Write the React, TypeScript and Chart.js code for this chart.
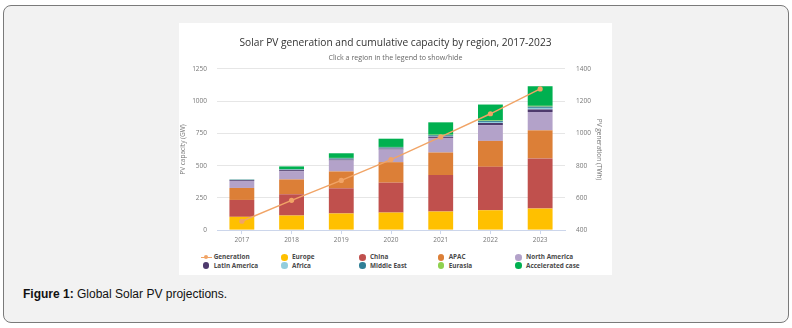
import React, { useEffect, useRef } from "react";
import { Chart, registerables } from "chart.js";

Chart.register(...registerables);

// ---- data ----
const years = ["2017", "2018", "2019", "2020", "2021", "2022", "2023"];
const europe = [103, 113, 129, 136, 144, 154, 167];
const china = [131, 165, 195, 232, 283, 337, 389];
const apac = [93, 115, 131, 159, 175, 201, 218];
const northAmerica = [54, 65, 85, 98, 113, 121, 142];
const latinAmerica = [6, 7, 8, 8, 10, 18, 20];
const africa = [2, 3, 4, 4, 5, 8, 12];
const middleEast = [3, 4, 5, 5, 6, 8, 10];
const eurasia = [1, 2, 3, 3, 4, 4, 6];
const acceleratedCase = [0, 20, 36, 64, 96, 123, 152];
const generation = [455, 585, 708, 838, 978, 1122, 1276];

const regionNames = [
  "Europe",
  "China",
  "APAC",
  "North America",
  "Latin America",
  "Africa",
  "Middle East",
  "Eurasia",
  "Accelerated case",
];
const regionValues = [
  europe,
  china,
  apac,
  northAmerica,
  latinAmerica,
  africa,
  middleEast,
  eurasia,
  acceleratedCase,
];

// ---- styles ----
const regionColors = [
  "#ffc000",
  "#c0504d",
  "#dc7f37",
  "#b3a2c9",
  "#4e3a6d",
  "#93cddd",
  "#2f7f96",
  "#8fd14f",
  "#00b050",
];
const generationColor = "#f1a466";
const FONT = "'Open Sans', 'DejaVu Sans', sans-serif";

const legendCols = [206, 284.3, 362.3, 441, 518.3];
const legendRows = [257.3, 265.7];

export default function App() {
  const canvasRef = useRef<HTMLCanvasElement | null>(null);

  useEffect(() => {
    const canvas = canvasRef.current;
    if (!canvas) return;
    const tickFont = { family: FONT, size: 6.5 };
    const chart = new Chart(canvas, {
      type: "bar",
      data: {
        labels: years,
        datasets: [
          {
            type: "line",
            label: "Generation",
            data: generation,
            yAxisID: "y1",
            borderColor: generationColor,
            backgroundColor: generationColor,
            pointBackgroundColor: generationColor,
            pointBorderWidth: 0,
            pointRadius: 2.6,
            borderWidth: 1.4,
            order: 0,
          } as any,
          ...regionNames.map((name, i) => ({
            type: "bar",
            label: name,
            data: regionValues[i],
            backgroundColor: regionColors[i],
            yAxisID: "y",
            stack: "cap",
            order: 1,
            categoryPercentage: 1,
            barPercentage: 0.5,
            borderWidth: 0,
          })),
        ],
      },
      options: {
        responsive: false,
        maintainAspectRatio: false,
        animation: false,
        layout: { padding: 0 },
        plugins: {
          legend: { display: false },
          tooltip: { enabled: false },
          title: {
            display: true,
            text: "Solar PV generation and cumulative capacity by region, 2017-2023",
            color: "#333333",
            font: { family: FONT, size: 10.2, weight: "normal" },
            padding: { top: 13.9, bottom: 1 },
          },
          subtitle: {
            display: true,
            text: "Click a region in the legend to show/hide",
            color: "#666666",
            font: { family: FONT, size: 7.1 },
            padding: { top: 3.1, bottom: 7.2 },
          },
        },
        scales: {
          x: {
            stacked: true,
            grid: {
              display: true,
              drawOnChartArea: false,
              drawTicks: true,
              tickLength: 4,
              offset: false,
              color: "#ccd6eb",
            },
            border: { display: true, color: "#ccd6eb" },
            ticks: { font: tickFont, color: "#777777", padding: 2 },
            afterFit: (s: any) => {
              s.height = 14;
            },
          },
          y: {
            stacked: true,
            position: "left",
            min: 0,
            max: 1250,
            ticks: {
              stepSize: 250,
              font: tickFont,
              color: "#777777",
              padding: 10,
              callback: (v: any) => String(v),
            },
            grid: { color: "#e6e6e6", drawTicks: false },
            border: { display: false },
            title: {
              display: true,
              text: "PV capacity (GW)",
              color: "#777777",
              font: { family: FONT, size: 6.5 },
              padding: 0,
            },
            afterFit: (s: any) => {
              s.width = 38;
            },
          },
          y1: {
            position: "right",
            min: 400,
            max: 1400,
            ticks: {
              stepSize: 200,
              font: tickFont,
              color: "#777777",
              padding: 11,
              callback: (v: any) => String(v),
            },
            grid: { display: false, drawTicks: false },
            border: { display: false },
            title: {
              display: true,
              text: "PV generation (TWh)",
              color: "#777777",
              font: { family: FONT, size: 6.5 },
              padding: { top: 9, bottom: 0 },
            },
            afterFit: (s: any) => {
              s.width = 47;
            },
          },
        },
      } as any,
    });
    return () => chart.destroy();
  }, []);

  const legendItems = ["Generation", ...regionNames];
  const legendColors = [generationColor, ...regionColors];

  return (
    <div
      style={{
        position: "absolute",
        left: 0,
        top: 0,
        width: 792,
        height: 328,
        background: "#ffffff",
        overflow: "hidden",
      }}
    >
      <div
        style={{
          position: "absolute",
          left: 3,
          top: 5,
          width: 784,
          height: 316,
          border: "1px solid #7a7a7a",
          borderRadius: 8,
          background: "#f2f2f2",
        }}
      />
      <div
        style={{
          position: "absolute",
          left: 179,
          top: 23,
          width: 433,
          height: 252,
          background: "#ffffff",
        }}
      />
      <canvas
        ref={canvasRef}
        width={433}
        height={222}
        style={{ position: "absolute", left: 179, top: 23, width: 433, height: 222 }}
      />
      {legendItems.map((name, i) => {
        const cx = legendCols[i % 5];
        const cy = legendRows[Math.floor(i / 5)];
        const isLine = i === 0;
        return (
          <React.Fragment key={name}>
            {isLine ? (
              <>
                <div
                  style={{
                    position: "absolute",
                    left: cx - 5.5,
                    top: cy - 0.7,
                    width: 11,
                    height: 1.4,
                    background: legendColors[i],
                  }}
                />
                <div
                  style={{
                    position: "absolute",
                    left: cx - 2,
                    top: cy - 2,
                    width: 4,
                    height: 4,
                    borderRadius: "50%",
                    background: legendColors[i],
                  }}
                />
              </>
            ) : (
              <div
                style={{
                  position: "absolute",
                  left: cx - 3.3,
                  top: cy - 3.3,
                  width: 6.6,
                  height: 6.6,
                  borderRadius: "50%",
                  background: legendColors[i],
                }}
              />
            )}
            <div
              style={{
                position: "absolute",
                left: cx + 7.7,
                top: cy - 5,
                height: 10,
                lineHeight: "10px",
                fontFamily: FONT,
                fontSize: 6.4,
                fontWeight: "bold",
                color: "#4a4a4a",
                whiteSpace: "nowrap",
              }}
            >
              {name}
            </div>
          </React.Fragment>
        );
      })}
      <div
        style={{
          position: "absolute",
          left: 23,
          top: 286,
          height: 16,
          lineHeight: "16px",
          fontFamily: "'Liberation Sans', Arial, sans-serif",
          fontSize: 12,
          color: "#111111",
          whiteSpace: "nowrap",
        }}
      >
        <b>Figure 1:</b> Global Solar PV projections.
      </div>
    </div>
  );
}
